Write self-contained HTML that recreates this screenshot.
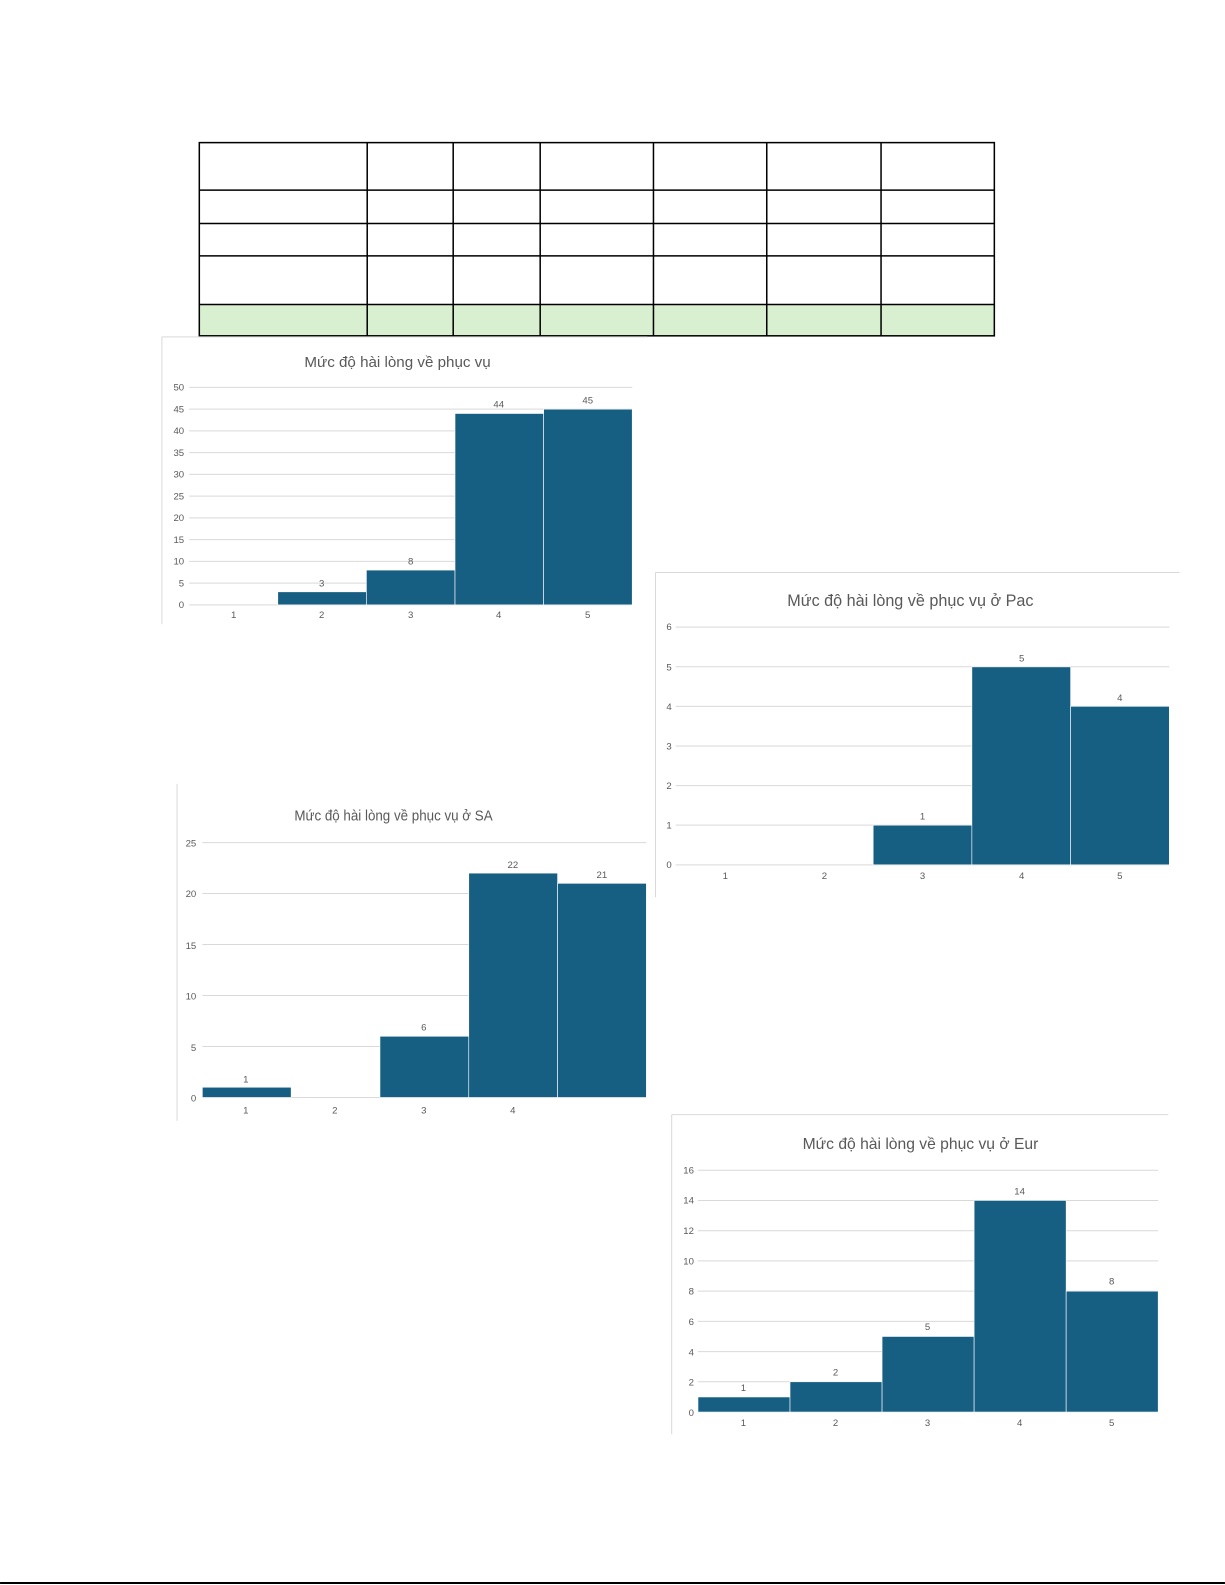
<!DOCTYPE html>
<html><head><meta charset="utf-8"><style>
html,body{margin:0;padding:0;background:#fff;}
svg{display:block;}
text{font-family:"Liberation Sans","DejaVu Sans",sans-serif;fill:#595959;}
</style></head><body>
<svg width="1225" height="1585" viewBox="0 0 1211 1567" xmlns="http://www.w3.org/2000/svg">
<!-- table -->
<rect x="197" y="301" width="786" height="31" fill="#d9f0d0"/>
<g stroke="#000" stroke-width="1.5" fill="none">
<rect x="197" y="141" width="786" height="191"/>
<line x1="197" y1="188" x2="983" y2="188"/>
<line x1="197" y1="221" x2="983" y2="221"/>
<line x1="197" y1="253" x2="983" y2="253"/>
<line x1="197" y1="301" x2="983" y2="301"/>
<line x1="363" y1="141" x2="363" y2="332"/>
<line x1="448" y1="141" x2="448" y2="332"/>
<line x1="534" y1="141" x2="534" y2="332"/>
<line x1="646" y1="141" x2="646" y2="332"/>
<line x1="758" y1="141" x2="758" y2="332"/>
<line x1="871" y1="141" x2="871" y2="332"/>
</g>

<!-- Chart 1 -->
<g>
<line x1="160" y1="333" x2="640" y2="333" stroke="#d9d9d9"/>
<line x1="160" y1="333" x2="160" y2="617" stroke="#d9d9d9"/>
<text x="393" y="363" font-size="15" text-anchor="middle">Mức độ hài lòng về phục vụ</text>
<g stroke="#d9d9d9" stroke-width="1">
<line x1="187" x2="625" y1="598" y2="598"/><line x1="187" x2="625" y1="576.5" y2="576.5"/><line x1="187" x2="625" y1="555" y2="555"/><line x1="187" x2="625" y1="533.5" y2="533.5"/><line x1="187" x2="625" y1="512" y2="512"/><line x1="187" x2="625" y1="490.5" y2="490.5"/><line x1="187" x2="625" y1="469" y2="469"/><line x1="187" x2="625" y1="447.5" y2="447.5"/><line x1="187" x2="625" y1="426" y2="426"/><line x1="187" x2="625" y1="404.5" y2="404.5"/><line x1="187" x2="625" y1="383" y2="383"/>
</g>
<g font-size="9.5" text-anchor="end">
<text x="182" y="601">0</text><text x="182" y="580">5</text><text x="182" y="558">10</text><text x="182" y="537">15</text><text x="182" y="515">20</text><text x="182" y="494">25</text><text x="182" y="472">30</text><text x="182" y="451">35</text><text x="182" y="429">40</text><text x="182" y="408">45</text><text x="182" y="386">50</text>
</g>
<g fill="#175f82" stroke="#fff" stroke-width="0.6">
<rect x="274.6" y="585.1" width="87.6" height="12.9"/>
<rect x="362.2" y="563.6" width="87.6" height="34.4"/>
<rect x="449.8" y="408.8" width="87.6" height="189.2"/>
<rect x="537.4" y="404.5" width="87.6" height="193.5"/>
</g>
<g font-size="9.5" text-anchor="middle">
<text x="318" y="580">3</text><text x="406" y="558">8</text><text x="493" y="403">44</text><text x="581" y="399">45</text>
<text x="231" y="611">1</text><text x="318" y="611">2</text><text x="406" y="611">3</text><text x="493" y="611">4</text><text x="581" y="611">5</text>
</g>
</g>

<!-- Chart Pac -->
<g>
<line x1="648" y1="566" x2="1166" y2="566" stroke="#d9d9d9"/>
<line x1="648" y1="566" x2="648" y2="877" stroke="#d9d9d9"/>
<text x="900" y="599" font-size="16" text-anchor="middle">Mức độ hài lòng về phục vụ ở Pac</text>
<g stroke="#d9d9d9">
<line x1="668" x2="1156" y1="855" y2="855"/><line x1="668" x2="1156" y1="815.8" y2="815.8"/><line x1="668" x2="1156" y1="776.7" y2="776.7"/><line x1="668" x2="1156" y1="737.5" y2="737.5"/><line x1="668" x2="1156" y1="698.3" y2="698.3"/><line x1="668" x2="1156" y1="659.2" y2="659.2"/><line x1="668" x2="1156" y1="620" y2="620"/>
</g>
<g font-size="9.5" text-anchor="end">
<text x="664" y="858">0</text><text x="664" y="819">1</text><text x="664" y="780">2</text><text x="664" y="741">3</text><text x="664" y="702">4</text><text x="664" y="663">5</text><text x="664" y="623">6</text>
</g>
<g fill="#175f82" stroke="#fff" stroke-width="0.6">
<rect x="863.2" y="815.8" width="97.6" height="39.2"/>
<rect x="960.8" y="659.3" width="97.6" height="195.7"/>
<rect x="1058.4" y="698.3" width="97.6" height="156.7"/>
</g>
<g font-size="9.5" text-anchor="middle">
<text x="912" y="810">1</text><text x="1010" y="654">5</text><text x="1107" y="693">4</text>
<text x="717" y="869">1</text><text x="815" y="869">2</text><text x="912" y="869">3</text><text x="1010" y="869">4</text><text x="1107" y="869">5</text>
</g>
</g>

<!-- Chart SA -->
<g>
<line x1="175" y1="775" x2="175" y2="1108" stroke="#d9d9d9"/>
<line x1="648" y1="770" x2="648" y2="887" stroke="#d9d9d9"/>
<text x="389" y="811" font-size="15" text-anchor="middle" textLength="196" lengthAdjust="spacingAndGlyphs">Mức độ hài lòng về phục vụ ở SA</text>
<g stroke="#d9d9d9">
<line x1="200" x2="639" y1="1085" y2="1085"/><line x1="200" x2="639" y1="1034.6" y2="1034.6"/><line x1="200" x2="639" y1="984.2" y2="984.2"/><line x1="200" x2="639" y1="933.8" y2="933.8"/><line x1="200" x2="639" y1="883.4" y2="883.4"/><line x1="200" x2="639" y1="833" y2="833"/>
</g>
<g font-size="9.5" text-anchor="end">
<text x="194" y="1089">0</text><text x="194" y="1039">5</text><text x="194" y="988">10</text><text x="194" y="938">15</text><text x="194" y="887">20</text><text x="194" y="837">25</text>
</g>
<g fill="#175f82" stroke="#fff" stroke-width="0.6">
<rect x="200" y="1074.9" width="87.8" height="10.1"/>
<rect x="375.6" y="1024.5" width="87.8" height="60.5"/>
<rect x="463.4" y="863.2" width="87.8" height="221.8"/>
<rect x="551.2" y="873.3" width="87.8" height="211.7"/>
</g>
<g font-size="9.5" text-anchor="middle">
<text x="243" y="1070">1</text><text x="419" y="1019">6</text><text x="507" y="858">22</text><text x="595" y="868">21</text>
<text x="243" y="1101">1</text><text x="331" y="1101">2</text><text x="419" y="1101">3</text><text x="507" y="1101">4</text>
</g>
</g>

<!-- Chart Eur -->
<g>
<line x1="664" y1="1102" x2="1155" y2="1102" stroke="#d9d9d9"/>
<line x1="664" y1="1102" x2="664" y2="1418" stroke="#d9d9d9"/>
<text x="910" y="1136" font-size="15.5" text-anchor="middle">Mức độ hài lòng về phục vụ ở Eur</text>
<g stroke="#d9d9d9">
<line x1="690" x2="1145" y1="1396" y2="1396"/><line x1="690" x2="1145" y1="1366.1" y2="1366.1"/><line x1="690" x2="1145" y1="1336.3" y2="1336.3"/><line x1="690" x2="1145" y1="1306.4" y2="1306.4"/><line x1="690" x2="1145" y1="1276.5" y2="1276.5"/><line x1="690" x2="1145" y1="1246.6" y2="1246.6"/><line x1="690" x2="1145" y1="1216.8" y2="1216.8"/><line x1="690" x2="1145" y1="1186.9" y2="1186.9"/><line x1="690" x2="1145" y1="1157" y2="1157"/>
</g>
<g font-size="9.5" text-anchor="end">
<text x="686" y="1400">0</text><text x="686" y="1370">2</text><text x="686" y="1340">4</text><text x="686" y="1310">6</text><text x="686" y="1280">8</text><text x="686" y="1250">10</text><text x="686" y="1220">12</text><text x="686" y="1190">14</text><text x="686" y="1160">16</text>
</g>
<g fill="#175f82" stroke="#fff" stroke-width="0.6">
<rect x="690" y="1381.1" width="91" height="14.9"/>
<rect x="781" y="1366.1" width="91" height="29.9"/>
<rect x="872" y="1321.3" width="91" height="74.7"/>
<rect x="963" y="1186.8" width="91" height="209.2"/>
<rect x="1054" y="1276.5" width="91" height="119.5"/>
</g>
<g font-size="9.5" text-anchor="middle">
<text x="735" y="1375">1</text><text x="826" y="1360">2</text><text x="917" y="1315">5</text><text x="1008" y="1181">14</text><text x="1099" y="1270">8</text>
<text x="735" y="1410">1</text><text x="826" y="1410">2</text><text x="917" y="1410">3</text><text x="1008" y="1410">4</text><text x="1099" y="1410">5</text>
</g>
</g>

<line x1="0" y1="1565" x2="1211" y2="1565" stroke="#000" stroke-width="2"/>
</svg>
</body></html>
